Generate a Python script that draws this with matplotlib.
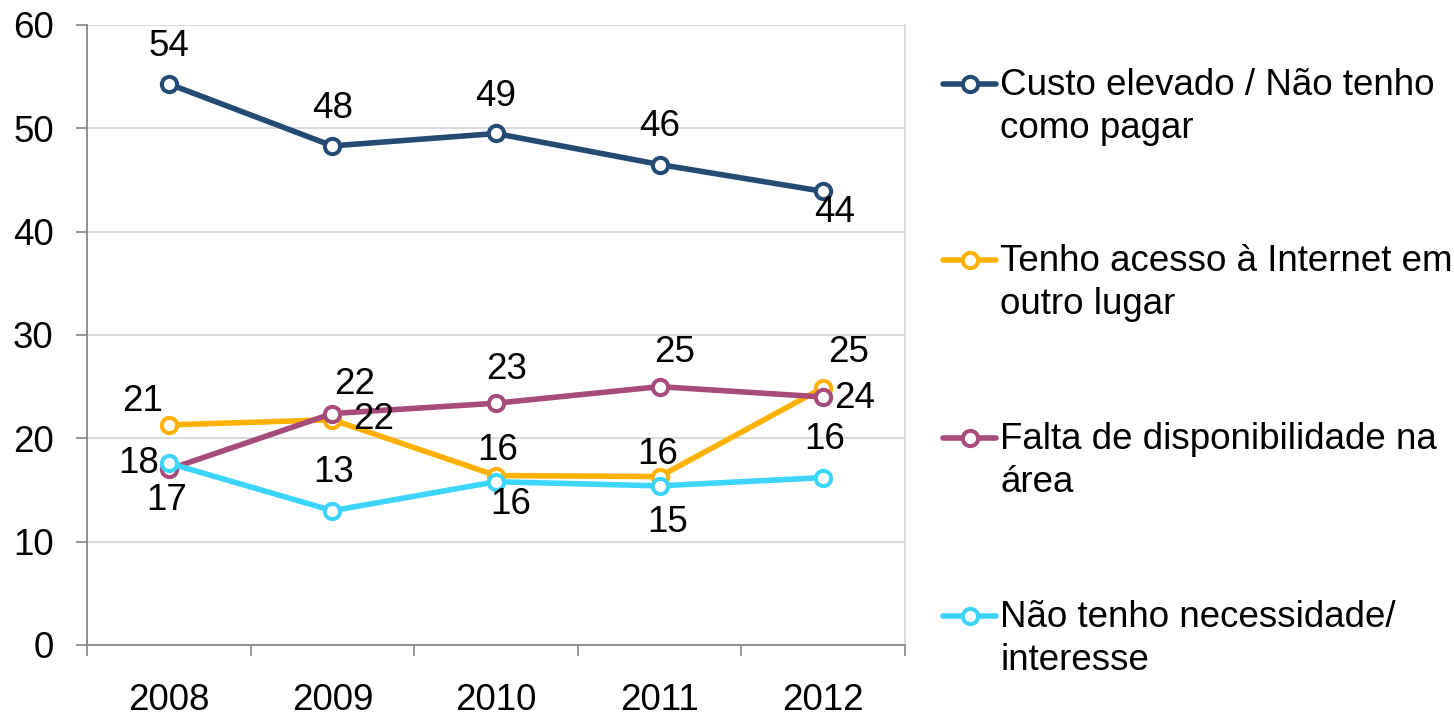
import matplotlib
matplotlib.use("Agg")
import matplotlib.pyplot as plt
from matplotlib.lines import Line2D

plt.rcParams['font.family'] = ['Liberation Sans', 'DejaVu Sans']

years = ["2008", "2009", "2010", "2011", "2012"]
series_names = [
    "Custo elevado / Não tenho\ncomo pagar",
    "Tenho acesso à Internet em\noutro lugar",
    "Falta de disponibilidade na\nárea",
    "Não tenho necessidade/\ninteresse",
]
custo = [54.3, 48.3, 49.5, 46.5, 43.9]
tenho = [21.3, 21.8, 16.4, 16.3, 24.9]
falta = [17.0, 22.4, 23.4, 25.0, 24.0]
nao = [17.6, 13.0, 15.8, 15.4, 16.2]
custo_lbl = [54, 48, 49, 46, 44]
tenho_lbl = [21, 22, 16, 16, 25]
falta_lbl = [17, 22, 23, 25, 24]
nao_lbl = [18, 13, 16, 15, 16]
yticks = [0, 10, 20, 30, 40, 50, 60]

colors = ["#234B74", "#FFB100", "#A64B7B", "#3BD5FD"]
# label offsets in pixels (dx right, dy down)
offsets_px = [
    [(0, -37), (0, -37), (0, -37), (0, -38), (11, 21)],
    [(-26, -23), (41, 0), (2, -25), (-2, -22), (25, -35)],
    [(-2, 31), (22, -29), (11, -34), (15, -34), (31, 2)],
    [(-30, 0), (1, -38), (15, 23), (8, 37), (1, -38)],
]

W, H = 1454, 715
fig = plt.figure(figsize=(W / 100, H / 100), dpi=100)
ax = fig.add_axes([87 / W, 1 - 645 / H, (905 - 87) / W, (645 - 25) / H])

x = list(range(len(years)))
data = [custo, tenho, falta, nao]
labels = [custo_lbl, tenho_lbl, falta_lbl, nao_lbl]
px2pt = 72 / 100
FS = 26.5
LW = 4.0
MS = 11
MEW = 2.9

for vals, lbls, col, offs in zip(data, labels, colors, offsets_px):
    ax.plot(x, vals, color=col, lw=LW, marker='o', markersize=MS,
            markerfacecolor='white', markeredgecolor=col, markeredgewidth=MEW,
            solid_capstyle='round', zorder=3)
    for xi, v, l, (dx, dy) in zip(x, vals, lbls, offs):
        ax.annotate(str(l), (xi, v), xytext=(dx * px2pt, -dy * px2pt),
                    textcoords='offset points', ha='center', va='center',
                    fontsize=FS, color='black', zorder=4)

ax.set_xlim(-0.5, 4.5)
ax.set_ylim(0, 60)
ax.set_yticks(yticks)
ax.set_yticklabels([str(t) for t in yticks])
ax.set_xticks(x)
ax.set_xticklabels(years)
ax.set_xticks([i - 0.5 for i in range(len(years) + 1)], minor=True)
ax.tick_params(axis='x', which='major', length=0, pad=27, labelsize=FS)
ax.tick_params(axis='x', which='minor', length=8, width=1.2, color='#868686', direction='out')
ax.tick_params(axis='y', which='major', length=8, width=1.2, color='#868686', pad=16, labelsize=FS)

ax.grid(axis='y', color='#D9D9D9', lw=1.3, zorder=0)
ax.set_axisbelow(True)
for s in ['left', 'bottom']:
    ax.spines[s].set_color('#868686')
    ax.spines[s].set_linewidth(1.3)
ax.spines['right'].set_color('#D9D9D9')
ax.spines['right'].set_linewidth(1.3)
ax.spines['top'].set_visible(False)

# manual legend (handle aligned to first text line)
leg_y = [84, 260, 438, 616]
for name, col, yy in zip(series_names, colors, leg_y):
    yf = 1 - yy / H
    ln = Line2D([943 / W, 996 / W], [yf, yf], transform=fig.transFigure,
                color=col, lw=LW, solid_capstyle='round')
    fig.add_artist(ln)
    mk = Line2D([970 / W], [yf], transform=fig.transFigure, marker='o',
                markersize=MS, markerfacecolor='white', markeredgecolor=col,
                markeredgewidth=MEW, lw=0)
    fig.add_artist(mk)
    fig.text(1000 / W, 1 - (yy - 16) / H, name, fontsize=FS, ha='left', va='top',
             linespacing=1.3)

fig.savefig("out.png", dpi=100)
